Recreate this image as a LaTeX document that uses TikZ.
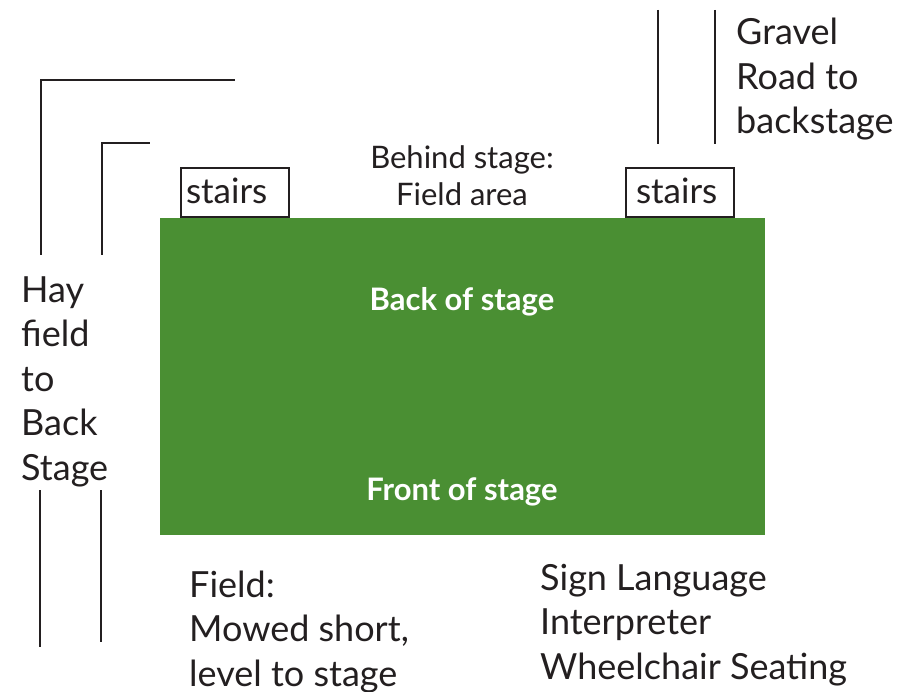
\documentclass[tikz,border=0pt]{standalone}
\usepackage{fontspec}
\setmainfont{Lato}
\definecolor{stagegreen}{HTML}{4A8F33}
\definecolor{ink}{HTML}{231F20}
\begin{document}
\begin{tikzpicture}[x=1pt,y=-1pt,
  wall/.style={draw=ink,line width=2.6pt},
  bigtxt/.style={text=ink,inner sep=0pt,align=left,font=\fontsize{36}{44.5}\selectfont},
  midtxt/.style={text=ink,inner sep=0pt,align=center,font=\fontsize{31}{37}\selectfont},
  stagetxt/.style={text=white,inner sep=0pt,font=\bfseries\fontsize{31}{36}\selectfont},
  stairbox/.style={draw=ink,line width=2pt,minimum height=49pt,inner ysep=0pt,align=left,font=\fontsize{35}{40}\selectfont,text=ink}]
\useasboundingbox (0,0) rectangle (920,692);
% stage
\node[fill=stagegreen,minimum width=605pt,minimum height=317pt,inner sep=0pt,anchor=north west] (stage) at (160,218) {};
\node[stagetxt,anchor=base] (back) at (462,310) {Back of stage};
\node[stagetxt,anchor=base] (front) at (462,500) {Front of stage};
% stairs
\node[stairbox,inner xsep=5pt,text width=98pt] (stairsL) at (235,192.5) {\raisebox{3pt}{stairs}};
\node[stairbox,inner xsep=10pt,text width=88pt] (stairsR) at (680,192.5) {\raisebox{3pt}{stairs}};
% behind stage
\node[midtxt,anchor=base] (behind) at (462,206) {Behind stage:\\Field area};
% hay field path
\coordinate (h1a) at (41,255); \coordinate (h1b) at (41,80); \coordinate (h1c) at (235,80);
\coordinate (h2a) at (102,255); \coordinate (h2b) at (102,143); \coordinate (h2c) at (150,143);
\draw[wall] (h1a) -- (h1b) -- (h1c);
\draw[wall] (h2a) -- (h2b) -- (h2c);
\coordinate (h3a) at (40,490); \coordinate (h3b) at (40,647);
\coordinate (h4a) at (101,490); \coordinate (h4b) at (101,642);
\draw[wall] (h3a) -- (h3b);
\draw[wall] (h4a) -- (h4b);
\node[bigtxt,anchor=base west] (hay) at (21,480) {Hay\\field\\to\\Back\\Stage};
% gravel road
\coordinate (g1a) at (658,10); \coordinate (g1b) at (658,144);
\coordinate (g2a) at (715,10); \coordinate (g2b) at (715,144);
\draw[wall] (g1a) -- (g1b);
\draw[wall] (g2a) -- (g2b);
\node[bigtxt,anchor=base west] (gravel) at (736,134) {Gravel\\Road to\\backstage};
% bottom texts
\node[bigtxt,anchor=base west] (field) at (189,686) {Field:\\Mowed short,\\level to stage};
\node[bigtxt,anchor=base west] (sign) at (540,679) {Sign Language\\Interpreter\\Wheelchair Seating};
\end{tikzpicture}
\end{document}
